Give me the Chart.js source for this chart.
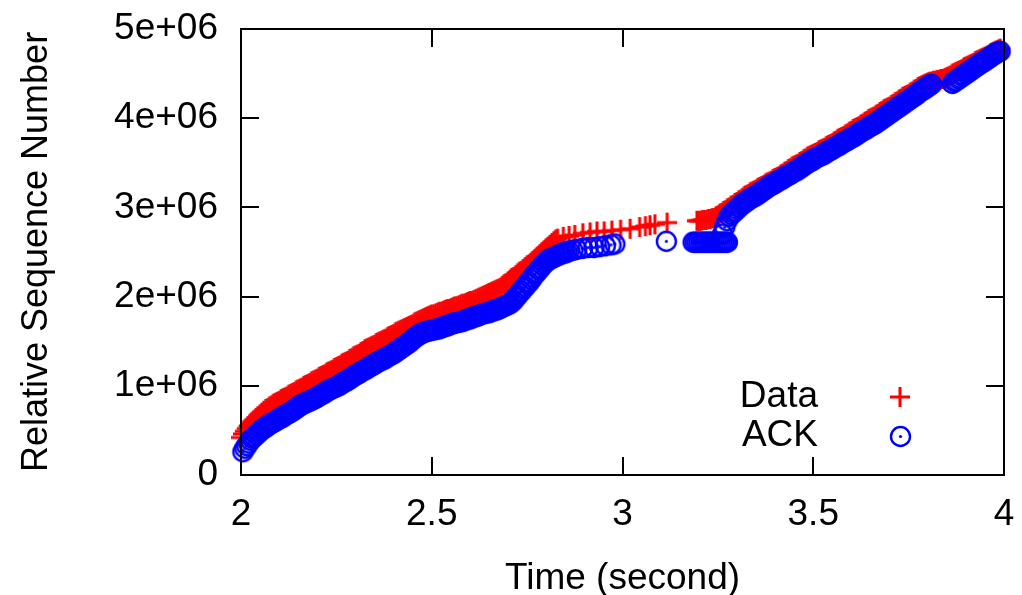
<!DOCTYPE html>
<html><head><meta charset="utf-8">
<script src="https://cdn.jsdelivr.net/npm/chart.js@4/dist/chart.umd.min.js"></script>
<style>html,body{margin:0;padding:0;background:#fff;overflow:hidden}</style>
</head><body>
<canvas id="c" width="1022" height="595"></canvas>
<script>
// ---- data: [time (s), relative sequence number (millions)] ----
const SEQ_UNIT = 1e6;
const dataPoints = [
[2.000,.42],[2.005,.46],[2.010,.49],[2.015,.52],[2.020,.55],[2.025,.58],[2.030,.60],[2.035,.62],[2.040,.64],[2.045,.66],
[2.050,.68],[2.055,.70],[2.060,.72],[2.065,.74],[2.070,.75],[2.075,.77],[2.080,.78],[2.085,.80],[2.090,.81],[2.095,.82],
[2.100,.83],[2.105,.85],[2.110,.86],[2.115,.87],[2.120,.88],[2.125,.90],[2.130,.91],[2.135,.92],[2.140,.93],[2.145,.95],
[2.150,.96],[2.155,.97],[2.160,.98],[2.165,1.00],[2.170,1.01],[2.175,1.02],[2.180,1.03],[2.185,1.05],[2.190,1.06],[2.195,1.07],
[2.200,1.08],[2.205,1.10],[2.210,1.11],[2.215,1.12],[2.220,1.13],[2.225,1.15],[2.230,1.16],[2.235,1.17],[2.240,1.18],[2.245,1.20],
[2.250,1.21],[2.255,1.22],[2.260,1.23],[2.265,1.25],[2.270,1.26],[2.275,1.27],[2.280,1.28],[2.285,1.30],[2.290,1.31],[2.295,1.33],
[2.300,1.34],[2.305,1.35],[2.310,1.36],[2.315,1.38],[2.320,1.39],[2.325,1.41],[2.330,1.42],[2.335,1.43],[2.340,1.44],[2.345,1.45],
[2.350,1.46],[2.355,1.48],[2.360,1.49],[2.365,1.50],[2.370,1.51],[2.375,1.52],[2.380,1.53],[2.385,1.55],[2.390,1.56],[2.395,1.57],
[2.400,1.58],[2.405,1.60],[2.410,1.61],[2.415,1.62],[2.420,1.63],[2.425,1.64],[2.430,1.65],[2.435,1.66],[2.440,1.67],[2.445,1.68],
[2.450,1.69],[2.455,1.71],[2.460,1.72],[2.465,1.73],[2.470,1.74],[2.475,1.75],[2.480,1.76],[2.485,1.77],[2.490,1.78],[2.495,1.79],
[2.500,1.80],[2.505,1.80],[2.510,1.81],[2.515,1.82],[2.520,1.83],[2.525,1.83],[2.530,1.84],[2.535,1.85],[2.540,1.86],[2.545,1.86],
[2.550,1.87],[2.555,1.88],[2.560,1.89],[2.565,1.89],[2.570,1.90],[2.575,1.91],[2.580,1.92],[2.585,1.92],[2.590,1.93],[2.595,1.94],
[2.600,1.95],[2.605,1.95],[2.610,1.96],[2.615,1.97],[2.620,1.98],[2.625,1.99],[2.630,2.00],[2.635,2.01],[2.640,2.02],[2.645,2.03],
[2.650,2.04],[2.655,2.05],[2.660,2.06],[2.665,2.07],[2.670,2.08],[2.675,2.09],[2.680,2.10],[2.685,2.12],[2.690,2.14],[2.695,2.15],
[2.700,2.17],[2.705,2.19],[2.710,2.21],[2.715,2.22],[2.720,2.24],[2.725,2.26],[2.730,2.28],[2.735,2.29],[2.740,2.31],[2.745,2.33],
[2.750,2.35],[2.755,2.36],[2.760,2.38],[2.765,2.40],[2.770,2.42],[2.775,2.44],[2.780,2.46],[2.785,2.48],[2.790,2.50],[2.795,2.52],
[2.800,2.54],[2.805,2.56],[2.810,2.58],[2.815,2.60],[2.820,2.62],[2.825,2.64],[2.830,2.65],
[2.845,2.67],[2.860,2.68],[2.875,2.69],[2.896,2.71],[2.915,2.72],[2.933,2.73],[2.952,2.73],[2.972,2.74],[2.995,2.75],[3.020,2.76],
[3.045,2.78],[3.060,2.79],[3.072,2.80],[3.085,2.81],[3.117,2.83],[3.195,2.85],
[3.200,2.85],[3.205,2.85],[3.210,2.86],[3.215,2.86],[3.220,2.86],[3.225,2.87],[3.230,2.87],[3.235,2.88],[3.240,2.88],[3.245,2.90],
[3.250,2.91],[3.255,2.93],[3.260,2.94],[3.265,2.96],[3.270,2.97],[3.275,2.99],[3.280,3.00],[3.285,3.02],[3.290,3.03],[3.295,3.05],
[3.300,3.06],[3.305,3.08],[3.310,3.09],[3.315,3.11],[3.320,3.13],[3.325,3.14],[3.330,3.15],[3.335,3.17],[3.340,3.18],[3.345,3.19],
[3.350,3.20],[3.355,3.22],[3.360,3.23],[3.365,3.24],[3.370,3.25],[3.375,3.27],[3.380,3.28],[3.385,3.29],[3.390,3.30],[3.395,3.32],
[3.400,3.33],[3.405,3.34],[3.410,3.35],[3.415,3.37],[3.420,3.38],[3.425,3.40],[3.430,3.41],[3.435,3.43],[3.440,3.44],[3.445,3.46],
[3.450,3.47],[3.455,3.48],[3.460,3.49],[3.465,3.51],[3.470,3.52],[3.475,3.54],[3.480,3.55],[3.485,3.57],[3.490,3.58],[3.495,3.59],
[3.500,3.60],[3.505,3.61],[3.510,3.62],[3.515,3.64],[3.520,3.65],[3.525,3.66],[3.530,3.67],[3.535,3.69],[3.540,3.70],[3.545,3.71],
[3.550,3.72],[3.555,3.74],[3.560,3.75],[3.565,3.77],[3.570,3.78],[3.575,3.79],[3.580,3.80],[3.585,3.82],[3.590,3.83],[3.595,3.85],
[3.600,3.86],[3.605,3.88],[3.610,3.89],[3.615,3.90],[3.620,3.91],[3.625,3.93],[3.630,3.94],[3.635,3.96],[3.640,3.97],[3.645,3.99],
[3.650,4.00],[3.655,4.01],[3.660,4.02],[3.665,4.04],[3.670,4.05],[3.675,4.07],[3.680,4.08],[3.685,4.10],[3.690,4.11],[3.695,4.12],
[3.700,4.13],[3.705,4.15],[3.710,4.16],[3.715,4.18],[3.720,4.19],[3.725,4.21],[3.730,4.22],[3.735,4.24],[3.740,4.25],[3.745,4.26],
[3.750,4.27],[3.755,4.29],[3.760,4.30],[3.765,4.32],[3.770,4.33],[3.775,4.35],[3.780,4.36],[3.785,4.37],[3.790,4.38],[3.795,4.39],
[3.800,4.40],[3.805,4.41],[3.810,4.41],[3.815,4.42],[3.820,4.42],[3.825,4.43],[3.830,4.43],[3.835,4.44],[3.840,4.44],[3.845,4.45],
[3.850,4.46],[3.855,4.47],[3.860,4.48],[3.865,4.50],[3.870,4.51],[3.875,4.52],[3.880,4.53],[3.885,4.54],[3.890,4.55],[3.895,4.57],
[3.900,4.58],[3.905,4.59],[3.910,4.60],[3.915,4.61],[3.920,4.62],[3.925,4.64],[3.930,4.65],[3.935,4.66],[3.940,4.67],[3.945,4.68],
[3.950,4.69],[3.955,4.70],[3.960,4.71],[3.965,4.73],[3.970,4.74],[3.975,4.75],[3.980,4.76],[3.985,4.77],[3.990,4.78]
];
const ackPoints = [
[2.005,.26],[2.010,.30],[2.015,.33],[2.020,.36],[2.025,.39],[2.030,.41],[2.035,.43],[2.040,.45],[2.045,.47],[2.050,.49],
[2.055,.51],[2.060,.52],[2.065,.54],[2.070,.55],[2.075,.57],[2.080,.58],[2.085,.59],[2.090,.60],[2.095,.62],[2.100,.63],
[2.105,.64],[2.110,.65],[2.115,.67],[2.120,.68],[2.125,.69],[2.130,.70],[2.135,.72],[2.140,.73],[2.145,.75],[2.150,.76],
[2.155,.78],[2.160,.79],[2.165,.80],[2.170,.81],[2.175,.82],[2.180,.83],[2.185,.84],[2.190,.85],[2.195,.86],[2.200,.87],
[2.205,.89],[2.210,.90],[2.215,.91],[2.220,.92],[2.225,.94],[2.230,.95],[2.235,.96],[2.240,.97],[2.245,.98],[2.250,.99],
[2.255,1.00],[2.260,1.01],[2.265,1.03],[2.270,1.04],[2.275,1.05],[2.280,1.06],[2.285,1.08],[2.290,1.09],[2.295,1.11],[2.300,1.12],
[2.305,1.13],[2.310,1.14],[2.315,1.16],[2.320,1.17],[2.325,1.18],[2.330,1.19],[2.335,1.21],[2.340,1.22],[2.345,1.23],[2.350,1.24],
[2.355,1.26],[2.360,1.27],[2.365,1.28],[2.370,1.29],[2.375,1.30],[2.380,1.31],[2.385,1.33],[2.390,1.34],[2.395,1.35],[2.400,1.36],
[2.405,1.38],[2.410,1.39],[2.415,1.41],[2.420,1.42],[2.425,1.44],[2.430,1.45],[2.435,1.47],[2.440,1.48],[2.445,1.50],[2.450,1.52],
[2.455,1.54],[2.460,1.55],[2.465,1.57],[2.470,1.58],[2.475,1.59],[2.480,1.60],[2.485,1.61],[2.490,1.61],[2.495,1.62],[2.500,1.62],
[2.505,1.63],[2.510,1.63],[2.515,1.64],[2.520,1.64],[2.525,1.65],[2.530,1.66],[2.535,1.67],[2.540,1.67],[2.545,1.68],[2.550,1.69],
[2.555,1.70],[2.560,1.70],[2.565,1.71],[2.570,1.71],[2.575,1.72],[2.580,1.72],[2.585,1.73],[2.590,1.74],[2.595,1.75],[2.600,1.75],
[2.605,1.76],[2.610,1.77],[2.615,1.78],[2.620,1.78],[2.625,1.79],[2.630,1.80],[2.635,1.81],[2.640,1.81],[2.645,1.82],[2.650,1.82],
[2.655,1.83],[2.660,1.84],[2.665,1.85],[2.670,1.85],[2.675,1.86],[2.680,1.87],[2.685,1.88],[2.690,1.89],[2.695,1.90],[2.700,1.91],
[2.705,1.92],[2.710,1.94],[2.715,1.96],[2.720,1.99],[2.725,2.01],[2.730,2.04],[2.735,2.06],[2.740,2.09],[2.745,2.11],[2.750,2.14],
[2.755,2.16],[2.760,2.19],[2.765,2.22],[2.770,2.25],[2.775,2.27],[2.780,2.30],[2.785,2.32],[2.790,2.35],[2.795,2.37],[2.800,2.39],
[2.805,2.41],[2.810,2.42],[2.815,2.43],[2.820,2.44],[2.825,2.45],[2.830,2.46],[2.835,2.47],[2.840,2.48],[2.845,2.49],[2.850,2.49],
[2.855,2.50],[2.860,2.51],[2.870,2.52],[2.880,2.53],[2.895,2.54],[2.910,2.55],[2.925,2.55],[2.940,2.56],[2.955,2.57],[2.970,2.58],
[2.980,2.59],
[3.115,2.62],
[3.185,2.61],[3.190,2.61],[3.195,2.61],[3.200,2.61],[3.205,2.61],[3.210,2.61],[3.215,2.61],[3.220,2.61],[3.225,2.61],[3.230,2.61],
[3.235,2.61],[3.240,2.61],[3.245,2.61],[3.250,2.61],[3.255,2.61],[3.260,2.61],[3.265,2.61],[3.270,2.61],[3.275,2.61],
[3.262,2.70],[3.268,2.78],[3.274,2.85],[3.280,2.90],[3.285,2.92],[3.290,2.94],[3.295,2.96],[3.300,2.98],
[3.305,3.00],[3.310,3.02],[3.315,3.04],[3.320,3.05],[3.325,3.07],[3.330,3.08],[3.335,3.10],[3.340,3.11],[3.345,3.12],[3.350,3.13],
[3.355,3.15],[3.360,3.16],[3.365,3.18],[3.370,3.19],[3.375,3.21],[3.380,3.22],[3.385,3.24],[3.390,3.25],[3.395,3.26],[3.400,3.27],
[3.405,3.29],[3.410,3.30],[3.415,3.31],[3.420,3.32],[3.425,3.34],[3.430,3.35],[3.435,3.36],[3.440,3.37],[3.445,3.39],[3.450,3.40],
[3.455,3.41],[3.460,3.42],[3.465,3.44],[3.470,3.45],[3.475,3.47],[3.480,3.48],[3.485,3.50],[3.490,3.51],[3.495,3.52],[3.500,3.53],
[3.505,3.55],[3.510,3.56],[3.515,3.57],[3.520,3.58],[3.525,3.59],[3.530,3.60],[3.535,3.62],[3.540,3.63],[3.545,3.64],[3.550,3.65],
[3.555,3.67],[3.560,3.68],[3.565,3.69],[3.570,3.70],[3.575,3.72],[3.580,3.73],[3.585,3.74],[3.590,3.75],[3.595,3.77],[3.600,3.78],
[3.605,3.79],[3.610,3.80],[3.615,3.82],[3.620,3.83],[3.625,3.85],[3.630,3.86],[3.635,3.87],[3.640,3.88],[3.645,3.90],[3.650,3.91],
[3.655,3.92],[3.660,3.93],[3.665,3.95],[3.670,3.96],[3.675,3.98],[3.680,3.99],[3.685,4.01],[3.690,4.02],[3.695,4.04],[3.700,4.05],
[3.705,4.07],[3.710,4.08],[3.715,4.10],[3.720,4.11],[3.725,4.13],[3.730,4.14],[3.735,4.16],[3.740,4.17],[3.745,4.19],[3.750,4.20],
[3.755,4.22],[3.760,4.23],[3.765,4.25],[3.770,4.26],[3.775,4.28],[3.780,4.30],[3.785,4.31],[3.790,4.32],[3.795,4.34],[3.800,4.35],
[3.805,4.37],[3.810,4.38],
[3.865,4.39],[3.870,4.41],[3.875,4.42],[3.880,4.44],[3.885,4.45],[3.890,4.47],[3.895,4.48],[3.900,4.50],[3.905,4.51],[3.910,4.53],
[3.915,4.54],[3.920,4.56],[3.925,4.57],[3.930,4.59],[3.935,4.60],[3.940,4.62],[3.945,4.63],[3.950,4.64],[3.955,4.66],[3.960,4.67],
[3.965,4.69],[3.970,4.70],[3.975,4.72],[3.980,4.73],[3.985,4.74],[3.990,4.75]
];
const seriesLabels = ['Data', 'ACK'];
const xTicks = [2, 2.5, 3, 3.5, 4];
const xTickLabels = ['2', '2.5', '3', '3.5', '4'];
const yTicks = [0, 1e6, 2e6, 3e6, 4e6, 5e6];
const yTickLabels = ['0', '1e+06', '2e+06', '3e+06', '4e+06', '5e+06'];
const xTitle = 'Time (second)';
const yTitle = 'Relative Sequence Number';

// ---- styles ----
const FAMILY = '"Liberation Sans", Arial, Helvetica, sans-serif';
const FONT = {family: FAMILY, size: 37};
const YTITLE_FONT = {family: FAMILY, size: 36};
const RED = '#ff0000', BLUE = '#0000ff';

function makeCross(color, r, w) {
  const s = 2 * r + 4, c = document.createElement('canvas');
  c.width = c.height = s;
  const g = c.getContext('2d');
  g.strokeStyle = color; g.lineWidth = w;
  g.beginPath();
  g.moveTo(s / 2 - r, s / 2); g.lineTo(s / 2 + r, s / 2);
  g.moveTo(s / 2, s / 2 - r); g.lineTo(s / 2, s / 2 + r);
  g.stroke();
  return c;
}
function makeDotCircle(color, r, w) {
  const s = 2 * r + 6, c = document.createElement('canvas');
  c.width = c.height = s;
  const g = c.getContext('2d');
  g.strokeStyle = color; g.fillStyle = color; g.lineWidth = w;
  g.beginPath(); g.arc(s / 2, s / 2, r, 0, Math.PI * 2); g.stroke();
  g.beginPath(); g.arc(s / 2, s / 2, 1.6, 0, Math.PI * 2); g.fill();
  return c;
}
const crossImg = makeCross(RED, 10, 3);
const circleImg = makeDotCircle(BLUE, 9.5, 2.4);

const toPoints = pts => pts.map(([t, v]) => ({x: t, y: v * SEQ_UNIT}));

const framePlugin = {
  id: 'gnuFrame',
  afterDraw(chart) {
    const {ctx, chartArea: a, scales: {x, y}} = chart;
    const L = 18;
    ctx.save();
    ctx.strokeStyle = '#000';
    ctx.lineWidth = 2;
    ctx.beginPath();
    x.ticks.forEach(t => {
      const p = Math.round(x.getPixelForValue(t.value));
      ctx.moveTo(p, a.bottom); ctx.lineTo(p, a.bottom - L);
      ctx.moveTo(p, a.top); ctx.lineTo(p, a.top + L);
    });
    y.ticks.forEach(t => {
      const p = Math.round(y.getPixelForValue(t.value));
      ctx.moveTo(a.left, p); ctx.lineTo(a.left + L, p);
      ctx.moveTo(a.right, p); ctx.lineTo(a.right - L, p);
    });
    ctx.stroke();
    ctx.strokeRect(a.left, a.top, a.right - a.left, a.bottom - a.top);
    ctx.restore();
  }
};

const legendPlugin = {
  id: 'gnuLegend',
  afterDraw(chart) {
    const {ctx, chartArea: a} = chart;
    const textRight = a.right - 186, symX = a.right - 104;
    const rows = [a.bottom - 78, a.bottom - 39];
    ctx.save();
    ctx.font = FONT.size + 'px ' + FONT.family;
    ctx.fillStyle = '#000';
    ctx.textAlign = 'right';
    ctx.textBaseline = 'middle';
    chart.data.datasets.forEach(ds => {
      const row = rows[seriesLabels.indexOf(ds.label)];
      ctx.fillText(ds.label, textRight, row);
      const img = ds.pointStyle;
      ctx.drawImage(img, Math.round(symX - img.width / 2), Math.round(row - img.height / 2));
    });
    ctx.restore();
  }
};

new Chart(document.getElementById('c'), {
  type: 'scatter',
  data: {
    datasets: [
      {label: seriesLabels[0], data: toPoints(dataPoints), pointStyle: crossImg, order: 2, clip: false},
      {label: seriesLabels[1], data: toPoints(ackPoints), pointStyle: circleImg, order: 1, clip: false}
    ]
  },
  options: {
    responsive: false,
    animation: false,
    devicePixelRatio: 1,
    layout: {padding: {top: 29, right: 18, left: 0, bottom: 0}},
    plugins: {legend: {display: false}, tooltip: {enabled: false}},
    scales: {
      x: {
        type: 'linear', min: 2, max: 4,
        afterBuildTicks: s => { s.ticks = xTicks.map(v => ({value: v})); },
        afterFit: s => { s.height = 120; s.paddingLeft = 0; s.paddingRight = 0; },
        grid: {display: false, drawTicks: false},
        border: {display: false},
        ticks: {callback: (v, i) => xTickLabels[i], font: FONT, color: '#000', padding: 18, maxRotation: 0, autoSkip: false},
        title: {display: true, text: xTitle, font: FONT, color: '#000', padding: {top: 0, bottom: -6}}
      },
      y: {
        type: 'linear', min: 0, max: 5e6,
        afterBuildTicks: s => { s.ticks = yTicks.map(v => ({value: v})); },
        afterFit: s => { s.width = 241; s.paddingTop = 0; s.paddingBottom = 0; },
        grid: {display: false, drawTicks: false},
        border: {display: false},
        ticks: {callback: (v, i) => yTickLabels[i], font: FONT, color: '#000', padding: 23, autoSkip: false},
        title: {display: true, text: yTitle, font: YTITLE_FONT, color: '#000', padding: {top: 15, bottom: 0}}
      }
    }
  },
  plugins: [framePlugin, legendPlugin]
});
</script>
</body></html>
